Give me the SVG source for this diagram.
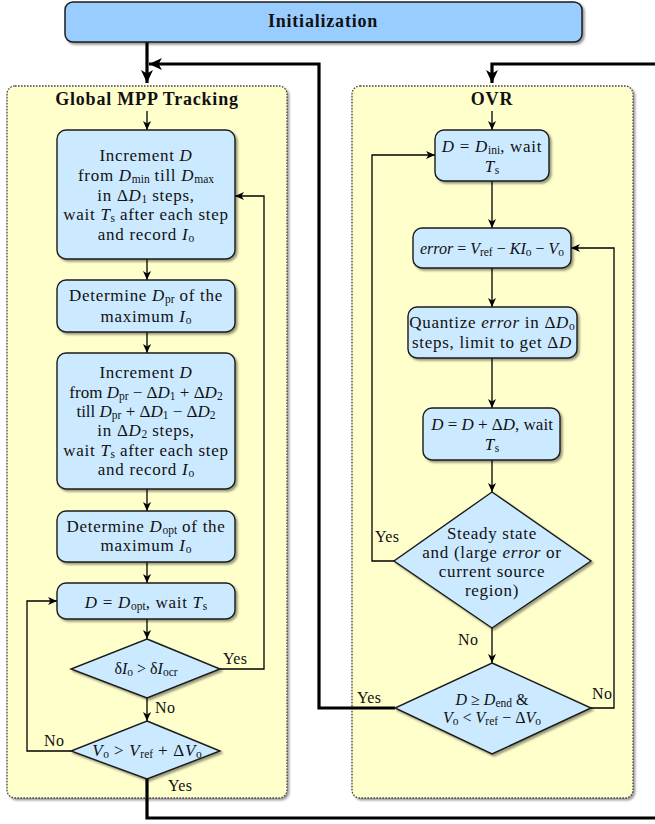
<svg xmlns="http://www.w3.org/2000/svg" width="655" height="824" viewBox="0 0 655 824">
<style>
.t{font-family:"Liberation Serif","DejaVu Serif",serif;font-size:17px;letter-spacing:0.7px;text-anchor:middle;fill:#111}
.m{letter-spacing:0}
.n{font-size:16px;letter-spacing:0}
.lbl{font-family:"Liberation Serif","DejaVu Serif",serif;font-size:16px;letter-spacing:0.4px;fill:#111}
.b{font-weight:bold;font-size:18px;letter-spacing:0.8px}
.i{font-style:italic}
.s{font-size:11.5px;baseline-shift:-2px;letter-spacing:0}
.box{fill:#cceaff;stroke:#1a1a1a;stroke-width:1.4;filter:url(#sh)}
.panel{fill:#ffffcc;stroke:#444;stroke-width:1.3;stroke-dasharray:1.6 1.4;filter:url(#sh)}
.init{fill:#99ccff;stroke:#1a1a1a;stroke-width:1.5;filter:url(#sh)}
.c{fill:none;stroke:#000;stroke-width:1.3;marker-end:url(#a)}
.k{fill:none;stroke:#000;stroke-width:3.2}
.ka{fill:none;stroke:#000;stroke-width:3.2;marker-end:url(#ak)}
</style>
<defs>
<filter id="sh" x="-10%" y="-10%" width="130%" height="130%">
<feDropShadow dx="2" dy="2" stdDeviation="1" flood-color="#000" flood-opacity="0.4"/>
</filter>
<marker id="a" markerUnits="userSpaceOnUse" markerWidth="10" markerHeight="10" viewBox="0 0 10 10" refX="9" refY="5" orient="auto">
<path d="M0,1 L9,5 L0,9 L2.5,5 z" fill="#000"/>
</marker>
<marker id="ak" markerUnits="userSpaceOnUse" markerWidth="14" markerHeight="14" viewBox="0 0 14 14" refX="13" refY="7" orient="auto">
<path d="M0,1 L13,7 L0,13 L3.5,7 z" fill="#000"/>
</marker>
</defs>
<rect width="655" height="824" fill="#fff"/>

<g id="panel-gmpp">
<rect class="panel" x="7" y="86" width="280" height="712" rx="8"/>
<text class="t b" x="147" y="105">Global MPP Tracking</text>
</g>
<g id="panel-ovr">
<rect class="panel" x="352" y="86" width="281" height="712" rx="8"/>
<text class="t b" x="492" y="105">OVR</text>
</g>

<g id="connectors">
<path class="c" d="M147,111 V130"/>
<path class="c" d="M147,259 V280"/>
<path class="c" d="M147,332 V353"/>
<path class="c" d="M147,489 V511"/>
<path class="c" d="M147,562 V583"/>
<path class="c" d="M147,619 V639"/>
<path class="c" d="M147,698 V721"/>
<path class="c" d="M220,669 H264 V196 H235"/>
<path class="c" d="M71,751 H27 V601 H57"/>
<path class="c" d="M492,111 V130"/>
<path class="c" d="M492,181 V228"/>
<path class="c" d="M492,268 V307"/>
<path class="c" d="M492,358 V408"/>
<path class="c" d="M492,460 V492"/>
<path class="c" d="M492,628 V663"/>
<path class="c" d="M394,561 H372 V155 H435"/>
<path class="c" d="M591,708 H614 V248 H571"/>
<path class="ka" d="M147,42 V83"/>
<path class="ka" d="M395,708 H319 V64 H149"/>
<path class="k" d="M147,779 V818 H660"/>
<path class="ka" d="M660,64 H492 V83"/>
</g>

<g id="init">
<rect class="init" x="65" y="2" width="517" height="40" rx="8"/>
<text class="t b" x="323" y="27">Initialization</text>
</g>

<g id="box1">
<rect class="box" x="57" y="130" width="178" height="129" rx="9"/>
<text class="t" x="146" y="161">Increment <tspan class="i">D</tspan></text>
<text class="t" x="146" y="181">from <tspan class="i">D</tspan><tspan class="s">min</tspan> till <tspan class="i">D</tspan><tspan class="s">max</tspan></text>
<text class="t" x="146" y="201">in Δ<tspan class="i">D</tspan><tspan class="s">1</tspan> steps,</text>
<text class="t" x="146" y="220">wait <tspan class="i">T</tspan><tspan class="s">s</tspan> after each step</text>
<text class="t" x="146" y="240">and record <tspan class="i">I</tspan><tspan class="s">o</tspan></text>
</g>

<g id="box2">
<rect class="box" x="57" y="280" width="178" height="52" rx="9"/>
<text class="t" x="146" y="301">Determine <tspan class="i">D</tspan><tspan class="s">pr</tspan> of the</text>
<text class="t" x="146" y="322">maximum <tspan class="i">I</tspan><tspan class="s">o</tspan></text>
</g>

<g id="box3">
<rect class="box" x="57" y="353" width="178" height="136" rx="9"/>
<text class="t" x="146" y="378">Increment <tspan class="i">D</tspan></text>
<text class="t m" x="146" y="398">from <tspan class="i">D</tspan><tspan class="s">pr</tspan> − Δ<tspan class="i">D</tspan><tspan class="s">1</tspan> + Δ<tspan class="i">D</tspan><tspan class="s">2</tspan></text>
<text class="t m" x="146" y="417">till <tspan class="i">D</tspan><tspan class="s">pr</tspan> + Δ<tspan class="i">D</tspan><tspan class="s">1</tspan> − Δ<tspan class="i">D</tspan><tspan class="s">2</tspan></text>
<text class="t" x="146" y="436">in Δ<tspan class="i">D</tspan><tspan class="s">2</tspan> steps,</text>
<text class="t" x="146" y="456">wait <tspan class="i">T</tspan><tspan class="s">s</tspan> after each step</text>
<text class="t" x="146" y="475">and record <tspan class="i">I</tspan><tspan class="s">o</tspan></text>
</g>

<g id="box4">
<rect class="box" x="57" y="511" width="178" height="51" rx="9"/>
<text class="t" x="146" y="532">Determine <tspan class="i">D</tspan><tspan class="s">opt</tspan> of the</text>
<text class="t" x="146" y="551">maximum <tspan class="i">I</tspan><tspan class="s">o</tspan></text>
</g>

<g id="box5">
<rect class="box" x="57" y="583" width="178" height="36" rx="9"/>
<text class="t" x="146" y="608"><tspan class="i">D</tspan> = <tspan class="i">D</tspan><tspan class="s">opt</tspan>, wait <tspan class="i">T</tspan><tspan class="s">s</tspan></text>
</g>

<g id="dec1">
<polygon class="box" points="147,639 220,669 147,698 71,669"/>
<text class="t n" x="146" y="674">δ<tspan class="i">I</tspan><tspan class="s">o</tspan> &gt; δ<tspan class="i">I</tspan><tspan class="s">ocr</tspan></text>
<text class="lbl" x="223" y="664">Yes</text>
<text class="lbl" x="155" y="713">No</text>
</g>

<g id="dec2">
<polygon class="box" points="147,721 220,751 147,779 71,751"/>
<text class="t" x="147" y="756"><tspan class="i">V</tspan><tspan class="s">o</tspan> &gt; <tspan class="i">V</tspan><tspan class="s">ref</tspan> + Δ<tspan class="i">V</tspan><tspan class="s">o</tspan></text>
<text class="lbl" x="44" y="746">No</text>
<text class="lbl" x="168" y="791">Yes</text>
</g>

<g id="r1">
<rect class="box" x="435" y="130" width="114" height="51" rx="9"/>
<text class="t" x="492" y="152"><tspan class="i">D</tspan> = <tspan class="i">D</tspan><tspan class="s">ini</tspan>, wait</text>
<text class="t" x="492" y="172"><tspan class="i">T</tspan><tspan class="s">s</tspan></text>
</g>

<g id="r2">
<rect class="box" x="413" y="228" width="158" height="40" rx="9"/>
<text class="t n" x="492" y="254"><tspan class="i">error</tspan> = <tspan class="i">V</tspan><tspan class="s">ref</tspan> − <tspan class="i">KI</tspan><tspan class="s">o</tspan> − <tspan class="i">V</tspan><tspan class="s">o</tspan></text>
</g>

<g id="r3">
<rect class="box" x="408" y="307" width="169" height="51" rx="9"/>
<text class="t" x="492" y="328">Quantize <tspan class="i">error</tspan> in Δ<tspan class="i">D</tspan><tspan class="s">o</tspan></text>
<text class="t" x="492" y="348">steps, limit to get Δ<tspan class="i">D</tspan></text>
</g>

<g id="r4">
<rect class="box" x="423" y="408" width="137" height="52" rx="9"/>
<text class="t m" x="492" y="430"><tspan class="i">D</tspan> = <tspan class="i">D</tspan> + Δ<tspan class="i">D</tspan>, wait</text>
<text class="t" x="492" y="450"><tspan class="i">T</tspan><tspan class="s">s</tspan></text>
</g>

<g id="rdec1">
<polygon class="box" points="492,492 591,561 492,628 394,561"/>
<text class="t" x="492" y="539">Steady state</text>
<text class="t" x="492" y="558">and (large <tspan class="i">error</tspan> or</text>
<text class="t" x="492" y="577">current source</text>
<text class="t" x="492" y="596">region)</text>
<text class="lbl" x="375" y="542">Yes</text>
<text class="lbl" x="458" y="645">No</text>
</g>

<g id="rdec2">
<polygon class="box" points="492,663 591,708 492,754 395,708"/>
<text class="t n" x="492" y="705"><tspan class="i">D</tspan> ≥ <tspan class="i">D</tspan><tspan class="s">end</tspan> &amp;</text>
<text class="t n" x="492" y="723"><tspan class="i">V</tspan><tspan class="s">o</tspan> &lt; <tspan class="i">V</tspan><tspan class="s">ref</tspan> − Δ<tspan class="i">V</tspan><tspan class="s">o</tspan></text>
<text class="lbl" x="357" y="703">Yes</text>
<text class="lbl" x="592" y="699">No</text>
</g>
</svg>
